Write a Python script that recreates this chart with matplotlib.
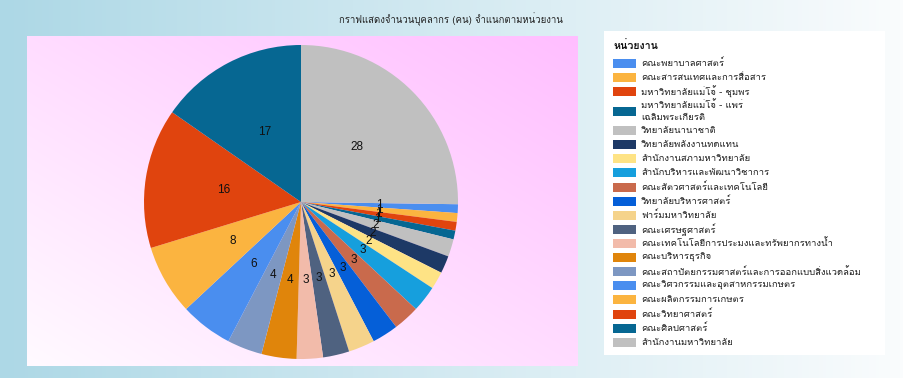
import numpy as np
import matplotlib
matplotlib.use('Agg')
import matplotlib.pyplot as plt
from matplotlib.patches import Rectangle

# ---------------- data ----------------
title = 'กราฟแสดงจำนวนบุคลากร (คน) จำแนกตามหน่วยงาน'
legend_title = 'หน่วยงาน'
units = [
    'คณะพยาบาลศาสตร์',
    'คณะสารสนเทศและการสื่อสาร',
    'มหาวิทยาลัยแม่โจ้ - ชุมพร',
    'มหาวิทยาลัยแม่โจ้ - แพร่\nเฉลิมพระเกียรติ',
    'วิทยาลัยนานาชาติ',
    'วิทยาลัยพลังงานทดแทน',
    'สำนักงานสภามหาวิทยาลัย',
    'สำนักบริหารและพัฒนาวิชาการ',
    'คณะสัตวศาสตร์และเทคโนโลยี',
    'วิทยาลัยบริหารศาสตร์',
    'ฟาร์มมหาวิทยาลัย',
    'คณะเศรษฐศาสตร์',
    'คณะเทคโนโลยีการประมงและทรัพยากรทางน้ำ',
    'คณะบริหารธุรกิจ',
    'คณะสถาปัตยกรรมศาสตร์และการออกแบบสิ่งแวดล้อม',
    'คณะวิศวกรรมและอุตสาหกรรมเกษตร',
    'คณะผลิตกรรมการเกษตร',
    'คณะวิทยาศาสตร์',
    'คณะศิลปศาสตร์',
    'สำนักงานมหาวิทยาลัย',
]
staff = [1, 1, 1, 1, 2, 2, 2, 3, 3, 3, 3, 3, 3, 4, 4, 6, 8, 16, 17, 28]
colors = ['#4a8eef', '#fbb440', '#e0440e', '#066792', '#c0c0c0',
          '#1d3966', '#fee385', '#169fdd', '#c96a4c', '#055fd8',
          '#f5d38b', '#4f6280', '#f2bbaa', '#e0850b', '#7d97c2',
          '#4a8eef', '#fbb440', '#e0440e', '#066792', '#c0c0c0']

THAI = ['Loma', 'DejaVu Sans']
W, H = 904, 378

def px_rect(x0, y0, x1, y1):
    return [x0 / W, 1 - y1 / H, (x1 - x0) / W, (y1 - y0) / H]

fig = plt.figure(figsize=(W / 100, H / 100), dpi=100)

# figure background: horizontal gradient
bg = fig.add_axes([0, 0, 1, 1], zorder=0)
g = np.linspace(0, 1, 256)[None, :]
c0 = np.array([173, 216, 230]) / 255
c1 = np.array([250, 252, 253]) / 255
img = c0[None, None, :] * (1 - g[..., None]) + c1[None, None, :] * g[..., None]
bg.imshow(img, aspect='auto', extent=[0, 1, 0, 1], transform=bg.transAxes)
bg.set_axis_off()

# plot area: diagonal gradient
pa = fig.add_axes(px_rect(27, 36, 578, 366), zorder=1)
xx, yy = np.meshgrid(np.linspace(0, 1, 200), np.linspace(1, 0, 200))
t = (xx + yy) / 2
p0 = np.array([255, 250, 255]) / 255
p1 = np.array([255, 190, 255]) / 255
pimg = p0[None, None, :] * (1 - t[..., None]) + p1[None, None, :] * t[..., None]
pa.imshow(pimg, aspect='auto', extent=[0, 1, 0, 1], transform=pa.transAxes)
pa.set_axis_off()

# pie
r = 157
cx, cy = 301, 202
pax = fig.add_axes(px_rect(cx - r, cy - r, cx + r, cy + r), zorder=2)
total = sum(staff)
start = 90 - 360 * staff[-1] / total
wedges, texts, autotexts = pax.pie(
    staff, colors=colors, startangle=start, counterclock=False,
    radius=1, pctdistance=0.5,
    autopct=lambda p: '%d' % round(p * total / 100),
    wedgeprops=dict(linewidth=0),
    textprops=dict(family='Liberation Sans', fontsize=8.5, color='#111111'))
pax.set_xlim(-1, 1)
pax.set_ylim(-1, 1)
pax.set_aspect('equal')
pax.set_axis_off()

# legend
la = fig.add_axes([0, 0, 1, 1], zorder=3)
la.set_xlim(0, W)
la.set_ylim(H, 0)
la.set_axis_off()
la.add_patch(Rectangle((604, 31), 281, 324, facecolor='white', edgecolor='none'))
la.text(613, 46, legend_title, family=THAI, fontsize=7.7, fontweight='bold',
        va='center', ha='left', color='#111111')
top = 56.25
for lab, col in zip(units, colors):
    n = lab.count('\n') + 1
    h = 14.1 + 11 * (n - 1)
    yc = top + h / 2
    la.add_patch(Rectangle((613, yc - 4.5), 23, 9, facecolor=col, edgecolor='none'))
    la.text(641, yc, lab, family=THAI, fontsize=6.85, va='center', ha='left',
            color='#222222', linespacing=1.4)
    top += h

fig.text(451 / W, 1 - 19 / H, title, family=THAI, fontsize=6.9,
         ha='center', va='center', color='#222222')

fig.savefig('out.png', dpi=100)
